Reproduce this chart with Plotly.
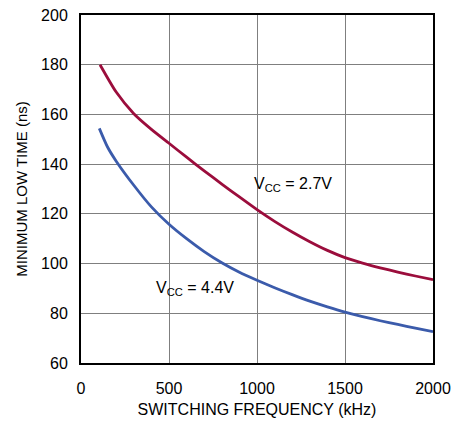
import plotly.graph_objects as go

# VCC = 2.7V
freq_27 = [108, 200, 300, 400, 500, 600, 700, 800, 900, 1000, 1100, 1200, 1300, 1400, 1500, 1600, 1700, 1800, 1900, 2000]
time_27 = [180, 169, 160.3, 154, 148.4, 142.8, 137.3, 132, 126.8, 121.7, 117, 112.7, 108.8, 105.3, 102.4, 100.2, 98.3, 96.6, 95, 93.5]

# VCC = 4.4V
freq_44 = [104, 150, 200, 300, 400, 500, 600, 700, 800, 900, 1000, 1100, 1200, 1300, 1400, 1500, 1600, 1700, 1800, 1900, 2000]
time_44 = [154.4, 147, 141.2, 131.5, 122.8, 115.8, 110, 104.8, 100.3, 96.5, 93.3, 90.3, 87.5, 84.9, 82.6, 80.5, 78.7, 77, 75.5, 74, 72.6]

font = "Liberation Sans, Arial, sans-serif"

fig = go.Figure()
fig.add_trace(go.Scatter(x=freq_27, y=time_27, mode="lines",
                         line=dict(color="#9b0d3c", width=2.8, shape="spline", smoothing=0.6)))
fig.add_trace(go.Scatter(x=freq_44, y=time_44, mode="lines",
                         line=dict(color="#3b5bab", width=2.8, shape="spline", smoothing=0.6)))

fig.add_annotation(x=970, y=132, text="V<sub>CC</sub> = 2.7V", showarrow=False, xanchor="left", font=dict(size=16))
fig.add_annotation(x=415, y=90, text="V<sub>CC</sub> = 4.4V", showarrow=False, xanchor="left", font=dict(size=16))

fig.update_layout(
    width=460, height=415,
    margin=dict(l=73, r=35, t=7, b=60),
    plot_bgcolor="white", paper_bgcolor="white",
    showlegend=False,
    font=dict(family=font, size=16, color="black"),
    xaxis=dict(range=[0, 2000], dtick=500, showgrid=True, gridcolor="#7f7f7f", gridwidth=1,
               showline=True, linecolor="black", linewidth=2, mirror=True,
               ticks="outside", ticklen=10, tickcolor="rgba(0,0,0,0)", automargin=False,
               ticklabeloverflow="allow",
               title=dict(text="SWITCHING FREQUENCY (kHz)", font=dict(size=16), standoff=8)),
    yaxis=dict(range=[60, 200], dtick=20, showgrid=True, gridcolor="#7f7f7f", gridwidth=1,
               showline=True, linecolor="black", linewidth=2, mirror=True,
               ticks="outside", ticklen=8, tickcolor="rgba(0,0,0,0)", automargin=False,
               ticklabeloverflow="allow",
               title=dict(text="MINIMUM LOW TIME (ns)", font=dict(size=15), standoff=10)),
)

fig.write_html("out.html")
